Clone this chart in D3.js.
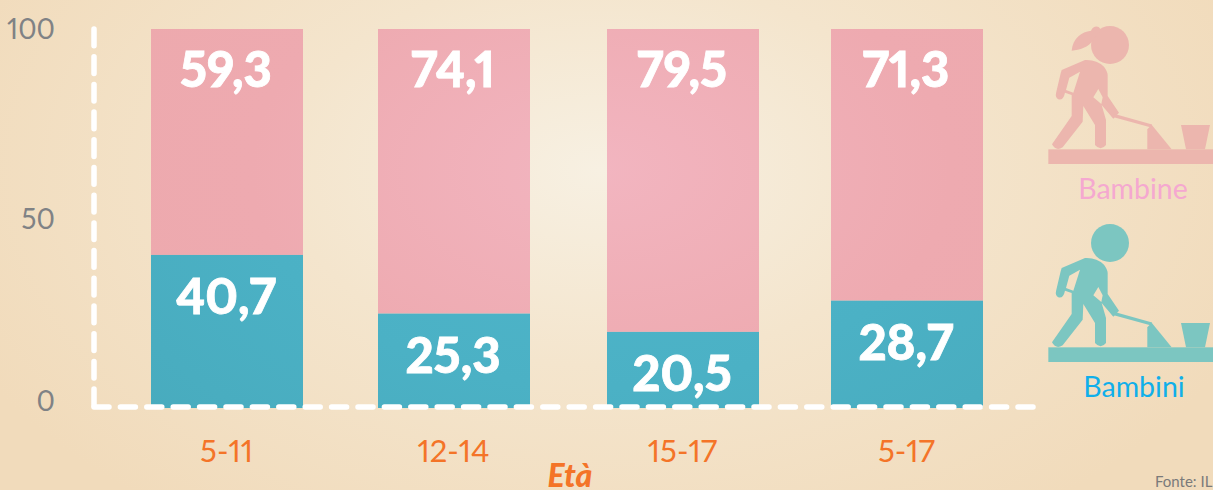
<!DOCTYPE html>
<html><head><meta charset="utf-8">
<script src="https://cdn.jsdelivr.net/npm/d3@7/dist/d3.min.js"></script>
<style>html,body{margin:0;padding:0;overflow:hidden}svg{display:block}text{font-family:Lato,sans-serif;font-variant-numeric:proportional-nums;font-feature-settings:"pnum" 1}</style>
</head><body><svg id="c" width="1213" height="490"></svg>
<script>
const categories=["5-11","12-14","15-17","5-17"];
const bambine=[59.3,74.1,79.5,71.3];
const bambini=[40.7,25.3,20.5,28.7];
const yTicks=[0,50,100];
const seriesNames=["Bambine","Bambini"];
const W=1213,H=490,barW=152,baseline=408;
const fmt=v=>v.toFixed(1).replace(".",",");
const x=d3.scaleOrdinal().domain(categories).range([227,454,683,907]);
const y=d3.scaleLinear().domain([0,100]).range([410,29]);
const svg=d3.select("#c");
const defs=svg.append("defs");
function grad(id,stops){
  const g=defs.append("radialGradient").attr("id",id).attr("gradientUnits","userSpaceOnUse")
    .attr("cx",600).attr("cy",170).attr("r",700).attr("gradientTransform","translate(600 170) scale(1 0.62) translate(-600 -170)");
  stops.forEach(s=>g.append("stop").attr("offset",s[0]).attr("stop-color",s[1]));
}
grad("bg",[[0,"#f7f0e2"],[0.45,"#f4e5cd"],[1,"#f1dbbb"]]);
grad("pink",[[0,"#f2b5c0"],[0.5,"#eeaab0"],[1,"#eca8aa"]]);
grad("teal",[[0,"#4fb6cb"],[0.5,"#4bb1c5"],[1,"#47a9bb"]]);
defs.append("clipPath").attr("id","plotClip").append("rect").attr("x",0).attr("y",0).attr("width",W).attr("height",baseline);
svg.append("rect").attr("width",W).attr("height",H).attr("fill","url(#bg)");

const bars=svg.append("g").attr("clip-path","url(#plotClip)");
bars.selectAll("rect.f").data(categories).join("rect").attr("class","f")
  .attr("x",d=>x(d)-barW/2).attr("width",barW)
  .attr("y",y(100)).attr("height",(d,i)=>y(bambini[i])-y(100))
  .attr("fill","url(#pink)");
bars.selectAll("rect.m").data(categories).join("rect").attr("class","m")
  .attr("x",d=>x(d)-barW/2).attr("width",barW)
  .attr("y",(d,i)=>y(bambini[i])).attr("height",(d,i)=>y(0)-y(bambini[i]))
  .attr("fill","url(#teal)");

const axisStyle=s=>s.attr("fill","none").attr("stroke","#fff").attr("stroke-width",5.5).attr("stroke-linecap","round");
axisStyle(svg.append("path")).attr("d",`M94,${y(100)}V${baseline-1}`).attr("stroke-dasharray","16.7 11");
axisStyle(svg.append("path")).attr("d",`M94,${baseline-1}H1033`).attr("stroke-dasharray","15 11.4");

const vals=svg.append("g").attr("fill","#fff").attr("stroke","#fff").attr("stroke-width",0.8).attr("font-weight",900).attr("font-size",49).attr("text-anchor","middle");
vals.selectAll("text.f").data(categories).join("text").attr("class","f")
  .attr("x",d=>x(d)-1).attr("y",87).text((d,i)=>fmt(bambine[i]));
vals.selectAll("text.m").data(categories).join("text").attr("class","m")
  .attr("x",d=>x(d)-1).attr("y",(d,i)=>y(bambini[i])+59).text((d,i)=>fmt(bambini[i]));

const ya=d3.axisLeft(y).tickValues(yTicks).tickSize(0).tickPadding(0).tickFormat(d3.format("d"));
const yg=svg.append("g").attr("transform","translate(55,0)").call(ya);
yg.select(".domain").remove();
yg.selectAll("text").attr("font-size",28).attr("fill","#808285").style("font-family","Lato,sans-serif")
  .attr("dy",".35em").attr("y",d=>d===0?-9:(d===50?-1:0));

const xa=d3.axisBottom(x).tickSize(0).tickPadding(0);
const xg=svg.append("g").attr("transform","translate(-1,437)").call(xa);
xg.select(".domain").remove();
xg.selectAll("text").attr("font-size",31).attr("fill","#f47428").style("font-family","Lato,sans-serif").attr("dy",0).attr("y",25);

svg.append("text").attr("x",570).attr("y",487).attr("text-anchor","middle").attr("font-size",32)
  .attr("font-weight",900).attr("font-style","italic").attr("fill","#f47428").text("Età");
svg.append("text").attr("x",1155).attr("y",487).attr("font-size",15).attr("fill","#7a7a7a").text("Fonte: IL");

function worker(tx,ty,color,girl){
  const g=svg.append("g").attr("transform",`translate(${tx},${ty}) scale(${1/3})`).attr("fill",color);
  g.append("circle").attr("cx",240).attr("cy",105).attr("r",57);
  if(girl) g.append("path").attr("d","M125,122C128,85 155,65 183,62C190,46 208,46 212,60L190,90C175,112 150,120 125,122Z");
  g.append("path").attr("fill-rule","evenodd").attr("d",
    "M95,180L165,150Q200,148 222,170Q233,185 233,195L233,258L267,308L250,326L215,285L228,330L228,405Q212,425 195,405L195,345L160,288L158,335L98,412Q78,425 66,403L125,318L125,255L105,248Q100,272 85,268Q75,262 78,250L92,190Z"+
    "M118,203L150,185L130,248L108,240Z"+
    "M205,237L190,262L214,282L218,262Z");
  g.append("path").attr("d","M250,316L365,348").attr("fill","none").attr("stroke",color).attr("stroke-width",10);
  g.append("path").attr("d","M352,418L352,358L365,344L425,418Z");
  g.append("path").attr("d","M453,345L540,345L525,418L468,418Z");
  g.append("rect").attr("x",55).attr("y",418).attr("width",500).attr("height",44);
}
worker(1030,10,"#ecb6ae",true);
worker(1030,208,"#7cc6c1",false);
const leg=svg.append("g").attr("font-size",28.5).attr("text-anchor","middle");
leg.append("text").attr("x",1133).attr("y",199).attr("fill","#f5a8d0").text(seriesNames[0]);
leg.append("text").attr("x",1134).attr("y",397).attr("fill","#10afea").text(seriesNames[1]);
</script></body></html>
